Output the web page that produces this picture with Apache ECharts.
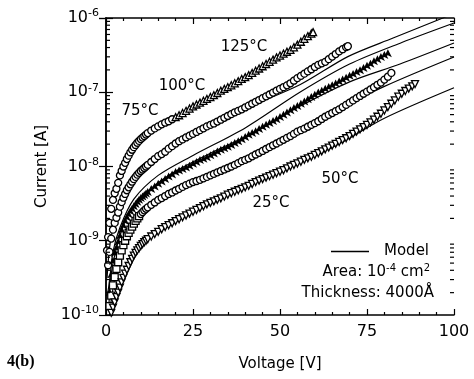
<!DOCTYPE html>
<html>
<head>
<meta charset="utf-8">
<script src="https://cdn.jsdelivr.net/npm/echarts@6/dist/echarts.min.js"></script>
<style>
  html, body { margin: 0; padding: 0; background: #fff; }
  #chart { width: 474px; height: 379px; }
</style>
</head>
<body>
<div id="chart"></div>
<script>
// measured data, [voltage V, current A]
var data125 = [[0.3,7.41e-10],[0.6,1.12e-9],[1.0,1.74e-9],[1.5,2.69e-9],[2.0,3.55e-9],[2.5,4.37e-9],[3.0,5.01e-9],[3.5,6.03e-9],[4.0,7.59e-9],[4.5,8.71e-9],[5.0,1.00e-8],[5.5,1.12e-8],[6,1.26e-8],[6.5,1.40e-8],[7,1.55e-8],[7.5,1.68e-8],[8,1.82e-8],[8.5,1.95e-8],[9,2.09e-8],[9.5,2.21e-8],[10,2.34e-8],[10.5,2.45e-8],[11,2.57e-8],[11.5,2.69e-8],
  [12,2.82e-8],[13,3.05e-8],[14,3.26e-8],[15,3.47e-8],[16,3.70e-8],[17,3.89e-8],[18,4.07e-8],[19,4.33e-8],[20,4.62e-8],[21,4.90e-8],[22,5.25e-8],[23,5.62e-8],[24,6.03e-8],[25,6.46e-8],[26,6.84e-8],[27,7.24e-8],[28,7.67e-8],[29,8.13e-8],[30,8.61e-8],[31,9.12e-8],[32,9.77e-8],[33,1.05e-7],[34,1.11e-7],[35,1.17e-7],[36,1.24e-7],[37,1.32e-7],[38,1.41e-7],[39,1.51e-7],[40,1.60e-7],[41,1.70e-7],[42,1.82e-7],[43,1.95e-7],[44,2.09e-7],[45,2.24e-7],[46,2.40e-7],[47,2.57e-7],[48,2.75e-7],[49,2.95e-7],[50,3.12e-7],[51,3.31e-7],[52,3.51e-7],[53,3.72e-7],[54,4.03e-7],[55,4.37e-7],[56,4.79e-7],[57,5.25e-7],[58,5.70e-7],[59,6.17e-7],[59.5,6.46e-7]];
var data100 = [[0.6,4.68e-10],[1.0,7.08e-10],[1.5,1.07e-9],[2.0,1.41e-9],[2.5,1.74e-9],[3.0,2.04e-9],[3.5,2.40e-9],[4.0,2.88e-9],[4.5,3.31e-9],[5.0,3.80e-9],[5.5,4.27e-9],[6,4.79e-9],[6.5,5.25e-9],[7,5.75e-9],[7.5,6.24e-9],[8,6.76e-9],[8.5,7.24e-9],[9,7.76e-9],[9.5,8.22e-9],[10,8.71e-9],[10.5,9.12e-9],[11,9.55e-9],[11.5,1.00e-8],
  [12,1.05e-8],[13,1.15e-8],[14,1.26e-8],[15,1.38e-8],[16,1.47e-8],[17,1.58e-8],[18,1.74e-8],[19,1.88e-8],[20,2.04e-8],[21,2.19e-8],[22,2.32e-8],[23,2.46e-8],[24,2.60e-8],[25,2.75e-8],[26,2.92e-8],[27,3.09e-8],[28,3.27e-8],[29,3.47e-8],[30,3.63e-8],[31,3.80e-8],[32,4.03e-8],[33,4.27e-8],[34,4.52e-8],[35,4.79e-8],[36,5.07e-8],[37,5.37e-8],[38,5.62e-8],[39,5.89e-8],[40,6.24e-8],[41,6.61e-8],[42,7.00e-8],[43,7.41e-8],[44,7.85e-8],[45,8.32e-8],[46,8.81e-8],[47,9.33e-8],[48,9.90e-8],[49,1.05e-7],[50,1.11e-7],[51,1.17e-7],[52,1.24e-7],[53,1.32e-7],[54,1.43e-7],[55,1.55e-7],[56,1.66e-7],[57,1.78e-7],[58,1.91e-7],[59,2.04e-7],[60,2.19e-7],[61,2.34e-7],[62,2.45e-7],[63,2.57e-7],[64,2.79e-7],[65,3.02e-7],[66,3.27e-7],[67,3.55e-7],[68,3.80e-7],[69,4.05e-7],[69.5,4.17e-7]];
var data75 = [[1.0,2.29e-10],[1.5,3.98e-10],[2.0,6.03e-10],[2.5,7.76e-10],[3.0,9.12e-10],[3.5,1.10e-9],[4.0,1.32e-9],[4.5,1.58e-9],[5.0,1.82e-9],[5.5,2.09e-9],[6,2.34e-9],[6.5,2.57e-9],[7,2.82e-9],[7.5,3.06e-9],[8,3.31e-9],[8.5,3.55e-9],[9,3.80e-9],[9.5,4.03e-9],[10,4.27e-9],[10.5,4.47e-9],[11,4.68e-9],[11.5,4.90e-9],
  [12,5.13e-9],[13,5.62e-9],[14,6.10e-9],[15,6.61e-9],[16,7.13e-9],[17,7.70e-9],[18,8.32e-9],[19,8.85e-9],[20,9.55e-9],[21,1.00e-8],[22,1.05e-8],[23,1.10e-8],[24,1.16e-8],[25,1.23e-8],[26,1.30e-8],[27,1.38e-8],[28,1.44e-8],[29,1.51e-8],[30,1.60e-8],[31,1.70e-8],[32,1.80e-8],[33,1.91e-8],[34,2.00e-8],[35,2.09e-8],[36,2.21e-8],[37,2.34e-8],[38,2.48e-8],[39,2.63e-8],[40,2.82e-8],[41,3.02e-8],[42,3.20e-8],[43,3.39e-8],[44,3.63e-8],[45,3.89e-8],[46,4.12e-8],[47,4.37e-8],[48,4.63e-8],[49,4.90e-8],[50,5.25e-8],[51,5.62e-8],[52,6.03e-8],[53,6.46e-8],[54,6.92e-8],[55,7.41e-8],[56,7.94e-8],[57,8.51e-8],[58,9.12e-8],[59,9.77e-8],[60,1.05e-7],[61,1.12e-7],[62,1.19e-7],[63,1.26e-7],[64,1.33e-7],[65,1.41e-7],[66,1.49e-7],[67,1.58e-7],[68,1.68e-7],[69,1.78e-7],[70,1.89e-7],[71,2.00e-7],[72,2.12e-7],[73,2.24e-7],[74,2.40e-7],[75,2.57e-7],[76,2.75e-7],[77,2.95e-7],[78,3.16e-7],[79,3.39e-7],[80,3.59e-7],[81,3.80e-7]];
var data50 = [[1.0,1.32e-10],[1.5,1.82e-10],[2.0,2.51e-10],[2.5,3.24e-10],[3.0,4.17e-10],[3.5,5.13e-10],[4.0,6.31e-10],[4.5,7.41e-10],[5.0,8.71e-10],[5.5,1.00e-9],[6,1.15e-9],[6.5,1.28e-9],[7,1.41e-9],[7.5,1.55e-9],[8,1.70e-9],[8.5,1.85e-9],[9,2.00e-9],[9.5,2.14e-9],[10,2.29e-9],[10.5,2.43e-9],[11,2.57e-9],[11.5,2.69e-9],
  [12,2.82e-9],[13,3.05e-9],[14,3.28e-9],[15,3.55e-9],[16,3.76e-9],[17,4.00e-9],[18,4.27e-9],[19,4.47e-9],[20,4.75e-9],[21,5.01e-9],[22,5.31e-9],[23,5.62e-9],[24,5.89e-9],[25,6.17e-9],[26,6.38e-9],[27,6.61e-9],[28,6.92e-9],[29,7.24e-9],[30,7.59e-9],[31,7.94e-9],[32,8.32e-9],[33,8.71e-9],[34,9.12e-9],[35,9.55e-9],[36,1.00e-8],[37,1.05e-8],[38,1.11e-8],[39,1.18e-8],[40,1.23e-8],[41,1.29e-8],[42,1.37e-8],[43,1.45e-8],[44,1.53e-8],[45,1.62e-8],[46,1.72e-8],[47,1.82e-8],[48,1.93e-8],[49,2.04e-8],[50,2.16e-8],[51,2.29e-8],[52,2.43e-8],[53,2.57e-8],[54,2.75e-8],[55,2.95e-8],[56,3.09e-8],[57,3.24e-8],[58,3.43e-8],[59,3.63e-8],[60,3.84e-8],[61,4.07e-8],[62,4.37e-8],[63,4.68e-8],[64,4.96e-8],[65,5.25e-8],[66,5.56e-8],[67,5.89e-8],[68,6.31e-8],[69,6.76e-8],[70,7.24e-8],[71,7.76e-8],[72,8.32e-8],[73,8.91e-8],[74,9.55e-8],[75,1.02e-7],[76,1.09e-7],[77,1.17e-7],[78,1.26e-7],[79,1.35e-7],[80,1.48e-7],[81,1.62e-7],[82,1.82e-7]];
var data25 = [[1.5,1.07e-10],[2.0,1.26e-10],[2.5,1.48e-10],[3.0,1.74e-10],[3.5,2.00e-10],[4.0,2.34e-10],[4.5,2.75e-10],[5.0,3.16e-10],[5.5,3.60e-10],[6,4.07e-10],[6.5,4.57e-10],[7,5.13e-10],[7.5,5.70e-10],[8,6.31e-10],[8.5,6.87e-10],[9,7.41e-10],[9.5,7.94e-10],[10,8.51e-10],[10.5,9.00e-10],[11,9.55e-10],[11.5,1.00e-9],
  [12,1.05e-9],[13,1.14e-9],[14,1.23e-9],[15,1.32e-9],[16,1.43e-9],[17,1.53e-9],[18,1.62e-9],[19,1.72e-9],[20,1.84e-9],[21,1.95e-9],[22,2.07e-9],[23,2.19e-9],[24,2.32e-9],[25,2.46e-9],[26,2.60e-9],[27,2.75e-9],[28,2.92e-9],[29,3.09e-9],[30,3.24e-9],[31,3.39e-9],[32,3.55e-9],[33,3.72e-9],[34,3.94e-9],[35,4.17e-9],[36,4.37e-9],[37,4.57e-9],[38,4.79e-9],[39,5.01e-9],[40,5.25e-9],[41,5.50e-9],[42,5.82e-9],[43,6.17e-9],[44,6.46e-9],[45,6.76e-9],[46,7.08e-9],[47,7.41e-9],[48,7.76e-9],[49,8.13e-9],[50,8.51e-9],[51,8.91e-9],[52,9.44e-9],[53,1.00e-8],[54,1.05e-8],[55,1.10e-8],[56,1.16e-8],[57,1.23e-8],[58,1.29e-8],[59,1.35e-8],[60,1.43e-8],[61,1.51e-8],[62,1.60e-8],[63,1.70e-8],[64,1.80e-8],[65,1.91e-8],[66,2.02e-8],[67,2.14e-8],[68,2.27e-8],[69,2.40e-8],[70,2.57e-8],[71,2.75e-8],[72,2.95e-8],[73,3.16e-8],[74,3.39e-8],[75,3.63e-8],[76,3.94e-8],[77,4.27e-8],[78,4.68e-8],[79,5.13e-8],[80,5.69e-8],[81,6.31e-8],[82,7.00e-8],[83,7.76e-8],[84,8.71e-8],[85,9.55e-8],[86,1.04e-7],[87,1.12e-7],[88,1.20e-7],[88.8,1.29e-7]];

// model curves
var modelA = [[0.3,3.16e-10],[1,7.94e-10],[2,1.48e-9],[4,2.95e-9],[8,6.76e-9],[15,1.38e-8],[25,2.69e-8],[40,6.03e-8],[55.7,1.26e-7],[69.5,3.02e-7],[82.5,5.37e-7],[96.8,1.0e-6],[100,1.15e-6]];
var modelB = [[0.5,2.00e-10],[1,2.82e-10],[2,7.08e-10],[4,1.51e-9],[8,3.63e-9],[15,7.59e-9],[25,1.41e-8],[40,3.31e-8],[55.7,1.0e-7],[70,2.40e-7],[85,4.68e-7],[100,8.57e-7]];
var modelC = [[0.8,1.26e-10],[1.5,3.55e-10],[3,7.94e-10],[6,2.09e-9],[10,3.80e-9],[18,7.59e-9],[30,1.51e-8],[40,2.51e-8],[55.7,6.46e-8],[70,1.38e-7],[84.5,2.40e-7],[100,4.60e-7]];
var modelD = [[1,1.0e-10],[1.5,1.58e-10],[3,3.98e-10],[6,1.07e-9],[10,2.19e-9],[18,4.07e-9],[30,7.41e-9],[40,1.23e-8],[50,2.14e-8],[64.4,5.13e-8],[80,1.20e-7],[100,2.99e-7]];
var modelE = [[1.3,1.0e-10],[2,1.32e-10],[4,2.40e-10],[8,6.03e-10],[12,1.02e-9],[18,1.58e-9],[27,2.69e-9],[40,5.37e-9],[55,1.07e-8],[67.2,2.04e-8],[80,4.47e-8],[100,1.15e-7]];

var tempLabels = ['125°C', '100°C', '75°C', '50°C', '25°C'];

var FONT = 'DejaVu Sans';

// log minor ticks 2..9 in each decade
var minorTicks = [];
for (var e = -10; e < -6; e++) {
  for (var m = 2; m <= 9; m++) minorTicks.push([0, m * Math.pow(10, e)]);
}

var chart = echarts.init(document.getElementById('chart'), null, { renderer: 'canvas' });

function hollow(name, data, symbol, size, extra) {
  var s = {
    name: name,
    type: 'scatter',
    data: data,
    symbol: symbol,
    symbolSize: size,
    itemStyle: { color: '#fff', borderColor: '#000', borderWidth: 1.3, opacity: 1 },
    z: 3
  };
  for (var k in extra) s[k] = extra[k];
  return s;
}

function model(data) {
  return {
    name: 'Model',
    type: 'line',
    data: data,
    symbol: 'none',
    smooth: 0.3,
    itemStyle: { color: '#000' },
    lineStyle: { color: '#000', width: 1.2 },
    z: 2
  };
}

var option = {
  animation: false,
  grid: { left: 106, right: 20, top: 18, bottom: 64 },
  legend: {
    data: ['Model'],
    left: 326,
    top: 239,
    icon: 'rect',
    itemWidth: 38,
    itemHeight: 1.5,
    itemStyle: { color: '#000' },
    textStyle: { fontFamily: FONT, fontSize: 15, color: '#000', padding: [0, 0, 0, 10] }
  },
  xAxis: [
    {
      type: 'value', min: 0, max: 100, interval: 25,
      name: 'Voltage [V]', nameLocation: 'middle', nameGap: 42,
      nameTextStyle: { fontFamily: FONT, fontSize: 15, color: '#000' },
      axisLine: { lineStyle: { color: '#000', width: 1.5 } },
      axisTick: { inside: true, length: 6, lineStyle: { color: '#000', width: 1.2 } },
      minorTick: { show: true, splitNumber: 5, length: 3, lineStyle: { color: '#000', width: 1.2 } },
      axisLabel: { fontFamily: FONT, fontSize: 16, color: '#000', margin: 9 },
      splitLine: { show: false }
    },
    {
      type: 'value', min: 0, max: 100, interval: 25, position: 'top',
      axisLine: { lineStyle: { color: '#000', width: 1.5 } },
      axisTick: { inside: true, length: 6, lineStyle: { color: '#000', width: 1.2 } },
      minorTick: { show: true, splitNumber: 5, length: 3, lineStyle: { color: '#000', width: 1.2 } },
      axisLabel: { show: false },
      splitLine: { show: false }
    }
  ],
  yAxis: [
    {
      type: 'log', logBase: 10, min: 1e-10, max: 1e-6,
      name: 'Current [A]', nameLocation: 'middle', nameGap: 52,
      nameTextStyle: { fontFamily: FONT, fontSize: 15, color: '#000' },
      axisLine: { lineStyle: { color: '#000', width: 1.5 } },
      axisTick: { inside: true, length: 7, lineStyle: { color: '#000', width: 1.2 } },
      axisLabel: {
        fontFamily: FONT, fontSize: 16, color: '#000', margin: 7,
        formatter: function (v) {
          return '{b|10}{s|' + Math.round(Math.log10(v)) + '}';
        },
        rich: {
          b: { fontFamily: FONT, fontSize: 16, color: '#000' },
          s: { fontFamily: FONT, fontSize: 11, color: '#000', padding: [0, 0, 9, 0] }
        }
      },
      splitLine: { show: false }
    },
    {
      type: 'log', logBase: 10, min: 1e-10, max: 1e-6, position: 'right',
      axisLine: { lineStyle: { color: '#000', width: 1.5 } },
      axisTick: { inside: true, length: 7, lineStyle: { color: '#000', width: 1.2 } },
      axisLabel: { show: false },
      splitLine: { show: false }
    }
  ],
  series: [
    model(modelA), model(modelB), model(modelC), model(modelD), model(modelE),
    hollow(tempLabels[0], data125, function (v) { return v[0] < 20 ? 'circle' : 'triangle'; }, 7),
    hollow(tempLabels[1], data100, 'circle', 7),
    {
      name: tempLabels[2], type: 'scatter', data: data75,
      symbol: 'arrow', symbolSize: [6, 8],
      itemStyle: { color: '#000', opacity: 1 }, z: 3
    },
    hollow(tempLabels[3], data50, function (v) { return v[0] < 10 ? 'rect' : 'circle'; }, 7),
    hollow(tempLabels[4], data25, 'triangle', 7, { symbolRotate: 180 }),
    {
      type: 'custom', silent: true, clip: false, z: 5,
      data: minorTicks,
      renderItem: function (params, api) {
        var p0 = api.coord([0, api.value(1)]);
        var p1 = api.coord([100, api.value(1)]);
        var st = { stroke: '#000', lineWidth: 1.2 };
        return {
          type: 'group',
          children: [
            { type: 'line', shape: { x1: p0[0], y1: p0[1], x2: p0[0] + 4, y2: p0[1] }, style: st },
            { type: 'line', shape: { x1: p1[0], y1: p1[1], x2: p1[0] - 4, y2: p1[1] }, style: st }
          ]
        };
      }
    }
  ],
  graphic: [
    { type: 'text', x: 244, y: 47, style: { text: tempLabels[0], font: '15px "DejaVu Sans"', fill: '#000', align: 'center', verticalAlign: 'middle' } },
    { type: 'text', x: 182, y: 86, style: { text: tempLabels[1], font: '15px "DejaVu Sans"', fill: '#000', align: 'center', verticalAlign: 'middle' } },
    { type: 'text', x: 140, y: 111, style: { text: tempLabels[2], font: '15px "DejaVu Sans"', fill: '#000', align: 'center', verticalAlign: 'middle' } },
    { type: 'text', x: 340, y: 179, style: { text: tempLabels[3], font: '15px "DejaVu Sans"', fill: '#000', align: 'center', verticalAlign: 'middle' } },
    { type: 'text', x: 271, y: 203, style: { text: tempLabels[4], font: '15px "DejaVu Sans"', fill: '#000', align: 'center', verticalAlign: 'middle' } },
    {
      type: 'text', x: 430, y: 272,
      style: {
        text: 'Area: 10{s|-4} cm{s|2}', font: '15px "DejaVu Sans"', fill: '#000', align: 'right', verticalAlign: 'middle',
        rich: { s: { fontFamily: FONT, fontSize: 10, fill: '#000', padding: [0, 0, 8, 0] } }
      }
    },
    { type: 'text', x: 434, y: 293, style: { text: 'Thickness: 4000Å', font: '15px "DejaVu Sans"', fill: '#000', align: 'right', verticalAlign: 'middle' } },
    { type: 'text', x: 7, y: 362, style: { text: '4(b)', font: 'bold 16px "Liberation Serif"', fill: '#000', align: 'left', verticalAlign: 'middle' } }
  ]
};

chart.setOption(option);
</script>
</body>
</html>
